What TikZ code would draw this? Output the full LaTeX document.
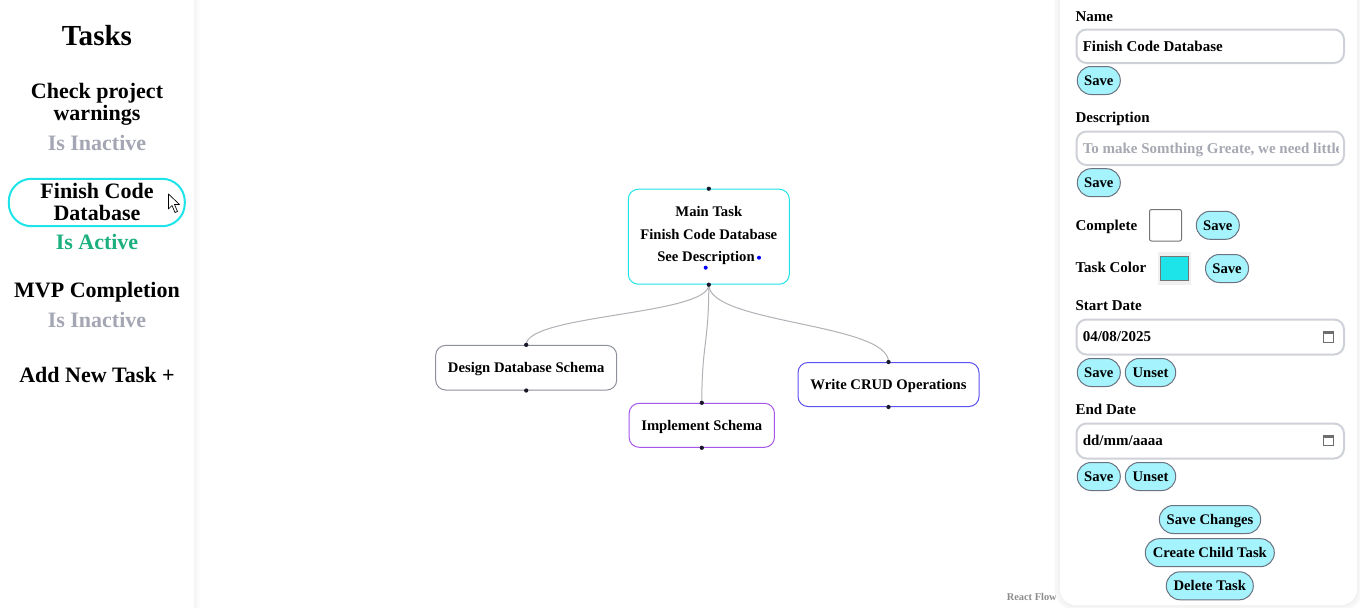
\documentclass[tikz,border=0pt]{standalone}
\usepackage{fontspec}
\setmainfont{Liberation Serif}
\definecolor{cyanb}{HTML}{1DE4E9}
\definecolor{inact}{HTML}{A4A6B3}
\definecolor{actgreen}{HTML}{1CB07D}
\definecolor{edgecol}{HTML}{B1B1B7}
\definecolor{handlecol}{HTML}{1A192B}
\definecolor{graybd}{HTML}{8E919C}
\definecolor{purplebd}{HTML}{A557E8}
\definecolor{indigobd}{HTML}{5B50F0}
\definecolor{inputbd}{HTML}{CFD1D8}
\definecolor{btnfill}{HTML}{A5F3FC}
\definecolor{btnbd}{HTML}{6B7280}
\definecolor{phcol}{HTML}{A6A8B2}
\definecolor{boxbd}{HTML}{767676}
\definecolor{iconcol}{HTML}{6E6E6E}
\tikzset{
  sidetitle/.style={font=\fontsize{21.8}{24}\selectfont\bfseries, anchor=base, inner sep=0},
  side/.style={font=\fontsize{16.5}{19}\selectfont\bfseries, anchor=base, inner sep=0},
  gnode/.style={draw, rounded corners=7.5pt, fill=white, line width=0.75pt, inner sep=0,
    text height=7.1pt, text depth=0pt, font=\fontsize{11}{13}\selectfont\bfseries},
  gtext/.style={font=\fontsize{11}{13}\selectfont\bfseries, anchor=base, inner sep=0},
  handle/.style={circle, fill=handlecol, inner sep=0, minimum size=3.2pt},
  bluedot/.style={circle, fill=blue, inner sep=0, minimum size=3pt},
  edge/.style={draw=edgecol, line width=0.75pt},
  lbl/.style={font=\fontsize{11.25}{13}\selectfont\bfseries, anchor=base west, inner sep=0},
  inputbox/.style={draw=inputbd, line width=1.5pt, rounded corners=7.5pt, fill=white},
  btn/.style={draw=btnbd, fill=btnfill, line width=0.75pt, rounded corners=10.4pt,
    minimum height=21pt, inner sep=0, text height=7.4pt, text depth=0pt,
    font=\fontsize{11}{13}\selectfont\bfseries},
}
\begin{document}
\begin{tikzpicture}[x=0.75pt,y=-0.75pt]
\useasboundingbox (0,0) rectangle (1360,607);
\fill[white] (0,0) rectangle (1360,607);

% ---------- left sidebar ----------
\shade[left color=black!4, right color=white] (194,0) rectangle (201,607);
\node[sidetitle] (title) at (97,45) {Tasks};
\node[side] (t1a) at (97,98.3) {Check project};
\node[side] (t1b) at (97,120) {warnings};
\node[side, text=inact] (t1s) at (97,150) {Is Inactive};
\draw[cyanb, line width=1.5pt, rounded corners=17pt] (8.8,178.8) rectangle (184.8,226.2);
\node[side] (t2a) at (97,198.3) {Finish Code};
\node[side] (t2b) at (97,220.7) {Database};
\node[side, text=actgreen] (t2s) at (97,249.3) {Is Active};
\node[side] (t3a) at (97,297.3) {MVP Completion};
\node[side, text=inact] (t3s) at (97,327.3) {Is Inactive};
\node[side] (add) at (97,382.3) {Add New Task +};
% cursor
\filldraw[fill=white, draw=black, line width=0.5pt, line join=round]
  (168.5,194) -- (168.5,209) -- (172,205.5) -- (175,212.5) -- (177.5,211.5)
  -- (174.5,204.5) -- (179.5,204.5) -- cycle;

% ---------- flow graph ----------
\node[gnode, draw=cyanb, minimum width=120.75pt, minimum height=71.25pt] (main) at (708.8,236.7) {};
\node[gnode, draw=graybd, minimum width=135.75pt, minimum height=33.5pt] (design) at (526.2,367.7) {Design Database Schema};
\node[gnode, draw=purplebd, minimum width=109pt, minimum height=33pt] (impl) at (701.8,425.3) {Implement Schema};
\node[gnode, draw=indigobd, minimum width=135.75pt, minimum height=33pt] (write) at (888.5,384.5) {Write CRUD Operations};

\node[gtext] (m1) at (708.8,216.2) {Main Task};
\node[gtext] (m2) at (708.8,239) {Finish Code Database};
\node[gtext] (m3) at (706,261) {See Description};
\node[bluedot] (d1) at (759,257.7) {};
\node[bluedot] (d2) at (705.7,267.7) {};

\draw[edge] (main.south) .. controls +(0,30.5) and +(0,-30.5) .. (design.north);
\draw[edge] (main.south) .. controls +(0,59.5) and +(0,-59.5) .. (impl.north);
\draw[edge] (main.south) .. controls +(0,39) and +(0,-39) .. (write.north);

\foreach \n in {main,design,impl,write}{
  \node[handle] (\n-in) at (\n.north) {};
  \node[handle] (\n-out) at (\n.south) {};
}

\node[font=\fontsize{7.8}{9}\selectfont\bfseries, text=black!45, anchor=base east, inner sep=0] (rf) at (1057,600.7) {React Flow};

% ---------- right panel ----------
\draw[black!3, line width=8pt, rounded corners=12pt] (1060,-15) rectangle (1357,605);
\draw[black!5, line width=3pt, rounded corners=12pt] (1060,-15) rectangle (1357,605);
\fill[white, rounded corners=12pt] (1060,-15) rectangle (1357,605);

\node[lbl] (lname) at (1075.3,21) {Name};
\draw[inputbox] (1076.5,29.5) rectangle (1344,63);
\node[lbl] (vname) at (1082.5,51) {Finish Code Database};
\node[btn, minimum width=32.25pt] (bs1) at (1098.8,80.5) {Save};

\node[lbl] (ldesc) at (1075.3,122.3) {Description};
\draw[inputbox] (1076.5,131.5) rectangle (1344,165);
\begin{scope}
  \clip (1078,132) rectangle (1338,164);
  \node[lbl, text=phcol] (vdesc) at (1082.5,153) {To make Somthing Greate, we need little};
\end{scope}
\node[btn, minimum width=32.25pt] (bs2) at (1098.8,182.7) {Save};

\node[lbl] (lcomp) at (1075.3,230) {Complete};
\draw[boxbd, line width=0.75pt, rounded corners=1.5pt, fill=white] (1149.5,209.5) rectangle (1181.5,241);
\node[btn, minimum width=32.25pt] (bs3) at (1217.8,225.3) {Save};

\node[lbl] (lcol) at (1075.3,272.7) {Task Color};
\fill[black!6] (1158,252) rectangle (1191,285);
\draw[boxbd, line width=1pt, fill=cyanb] (1160.8,256.3) rectangle (1188.3,280.5);
\node[btn, minimum width=32.25pt] (bs4) at (1227,268.5) {Save};

\node[lbl] (lstart) at (1075.3,310.7) {Start Date};
\draw[inputbox] (1076.5,319.5) rectangle (1344,354.5);
\node[lbl] (vstart) at (1082.5,341.7) {04/08/2025};
\draw[iconcol, line width=0.75pt] (1323.8,331.5) rectangle (1333.8,342);
\fill[iconcol] (1323.8,331.5) rectangle (1333.8,334);
\node[btn, minimum width=32.25pt] (bs5) at (1098.8,372.5) {Save};
\node[btn, minimum width=37.8pt] (bu5) at (1150.5,372.5) {Unset};

\node[lbl] (lend) at (1075.3,414.3) {End Date};
\draw[inputbox] (1076.5,423.5) rectangle (1344,458.5);
\node[lbl] (vend) at (1082.5,445.7) {dd/mm/aaaa};
\draw[iconcol, line width=0.75pt] (1323.8,435) rectangle (1333.8,445.5);
\fill[iconcol] (1323.8,435) rectangle (1333.8,437.5);
\node[btn, minimum width=32.25pt] (bs6) at (1098.8,476.5) {Save};
\node[btn, minimum width=37.8pt] (bu6) at (1150.5,476.5) {Unset};

\node[btn, minimum width=76pt] (bsc) at (1210,519.5) {Save Changes};
\node[btn, minimum width=96.75pt] (bcc) at (1209.8,552.7) {Create Child Task};
\node[btn, minimum width=65.25pt] (bdt) at (1209.8,585.8) {Delete Task};
\end{tikzpicture}
\end{document}
